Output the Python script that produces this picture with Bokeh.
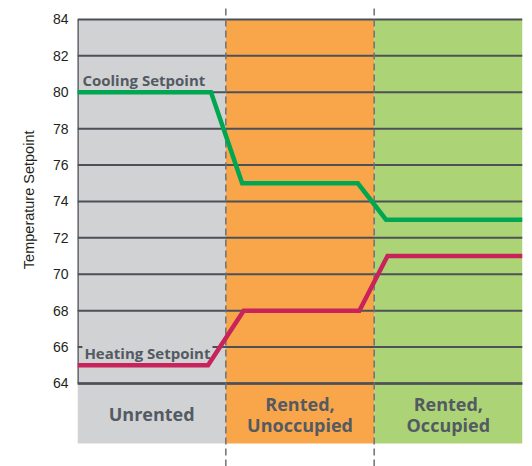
from bokeh.plotting import figure
from bokeh.models import ColumnDataSource, FixedTicker, Title
from bokeh.core.properties import value
from bokeh.embed import file_html
from bokeh.resources import INLINE

# ---- data ----
categories = ["Unrented", "Rented,\nUnoccupied", "Rented,\nOccupied"]
band_colors = ["#d1d2d4", "#f9a64b", "#acd476"]
y_ticks = [64, 66, 68, 70, 72, 74, 76, 78, 80, 82, 84]

cool_x = [0.0, 0.90, 1.11, 1.89, 2.08, 3.0]
cool_y = [80, 80, 75, 75, 73, 73]
heat_x = [0.0, 0.88, 1.12, 1.90, 2.09, 3.0]
heat_y = [65, 65, 68, 68, 71, 71]

cool_label = "Cooling Setpoint"
heat_label = "Heating Setpoint"
y_title = "Temperature Setpoint"

# ---- figure ----
y_lo, y_hi = 59.44, 85.04
band_bottom = 60.70
dash_top = 84.66
n = len(categories)
label_col = "#535a62"

p = figure(width=532, height=466, x_range=(0, n), y_range=(y_lo, y_hi),
           output_backend="svg", toolbar_location=None,
           x_axis_location=None, min_border_left=77, min_border_right=10,
           min_border_top=0, min_border_bottom=0)
p.outline_line_color = None
p.xgrid.visible = False
p.ygrid.visible = False
p.background_fill_color = "white"

# bands
bands = ColumnDataSource(dict(
    left=list(range(n)), right=[i + 1 for i in range(n)],
    color=band_colors, label=categories,
    cx=[i + 0.5 for i in range(n)]))
p.quad(left="left", right="right", bottom=band_bottom, top=y_ticks[-1],
       fill_color="color", line_color=None, source=bands)

# gridlines and left border
grid_col = "#4b5157"
p.segment(x0=0, x1=n, y0=y_ticks, y1=y_ticks, line_color=grid_col, line_width=2)
p.segment(x0=0, x1=0, y0=y_ticks[0], y1=y_ticks[-1], line_color=grid_col, line_width=2.5)
p.segment(x0=0, x1=n, y0=y_ticks[0], y1=y_ticks[0], line_color=grid_col, line_width=2.5)

# dashed separators
seps = list(range(1, n))
p.segment(x0=seps, x1=seps, y0=y_lo, y1=dash_top, line_color="#6d7073",
          line_width=1.5, line_dash="7 4")

# line labels (heating label has a background that hides the gridline)
p.text(x=[0.033], y=[80.68], text=[cool_label], text_font=value("Open Sans"),
       text_font_style="bold", text_font_size="15px", text_color=label_col,
       text_baseline="alphabetic")
p.text(x=[0.033], y=[65.68], text=[heat_label], text_font=value("Open Sans"),
       text_font_style="bold", text_font_size="15px", text_color=label_col,
       text_baseline="alphabetic", background_fill_color=band_colors[0],
       padding=2)

# setpoint lines
p.line(cool_x, cool_y, line_color="#00a651", line_width=4.5, line_join="miter")
p.line(heat_x, heat_y, line_color="#c8235a", line_width=4.5, line_join="miter")

# category labels
p.text(x="cx", y=62.3, text="label", source=bands, text_align="center",
       text_baseline="middle", text_font=value("Open Sans"),
       text_font_style="bold", text_font_size="18px", text_color=label_col,
       text_line_height=0.91)

# y axis
ax = p.yaxis[0]
ax.ticker = FixedTicker(ticks=y_ticks)
ax.axis_line_color = None
ax.major_tick_line_color = None
ax.minor_tick_line_color = None
ax.major_tick_out = 0
ax.major_tick_in = 0
ax.major_label_standoff = 9
ax.major_label_text_font = "Liberation Sans"
ax.major_label_text_font_size = "14px"
ax.major_label_text_color = "#231f20"

p.add_layout(Title(text=y_title, align="right", offset=130,
                   text_font="Liberation Sans", text_font_size="14.5px",
                   text_font_style="normal", text_color="#231f20",
                   standoff=26), "left")

open("out.html", "w").write(file_html(p, INLINE))
